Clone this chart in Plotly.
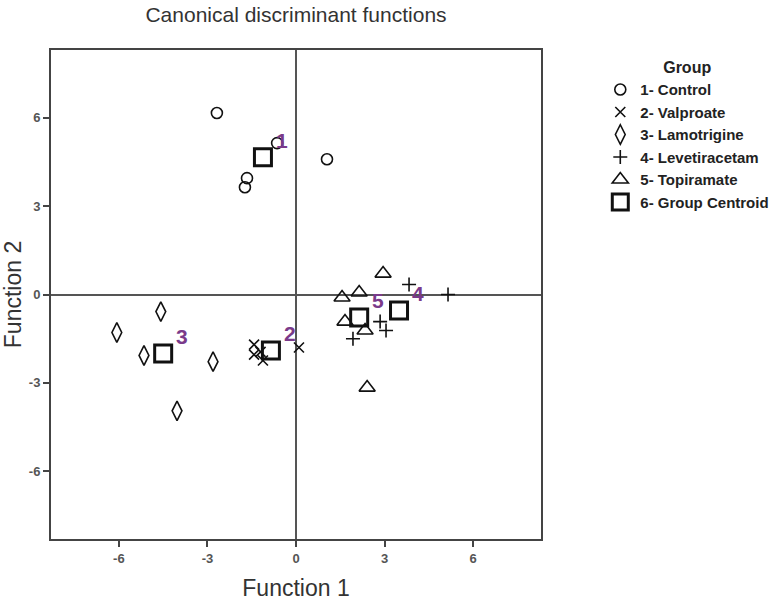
import plotly.graph_objects as go

# Group 1 - Control
control_x = [-2.68, -0.64, 1.05, -1.66, -1.73]
control_y = [6.16, 5.14, 4.59, 3.95, 3.64]
# Group 2 - Valproate
valproate_x = [-1.42, -1.42, -1.12, 0.10, -1.20]
valproate_y = [-1.70, -2.04, -2.24, -1.80, -1.95]
# Group 3 - Lamotrigine
lamotrigine_x = [-4.58, -6.07, -5.15, -2.81, -4.03]
lamotrigine_y = [-0.58, -1.29, -2.07, -2.28, -3.95]
# Group 4 - Levetiracetam
levetiracetam_x = [3.83, 5.15, 2.85, 3.05, 1.93]
levetiracetam_y = [0.34, 0.00, -0.92, -1.22, -1.50]
# Group 5 - Topiramate
topiramate_x = [2.95, 1.56, 2.14, 1.66, 2.34, 2.41]
topiramate_y = [0.71, -0.10, 0.07, -0.92, -1.22, -3.16]
# Group centroids
centroid_labels = ["1", "2", "3", "4", "5"]
centroid_x = [-1.12, -0.85, -4.50, 3.49, 2.14]
centroid_y = [4.66, -1.90, -2.00, -0.54, -0.78]

tick_vals = [-6, -3, 0, 3, 6]
tick_text = ["-6", "-3", "0", "3", "6"]

black = "#111111"
FONT = "Liberation Sans, Arial"
fig = go.Figure()

def add(name, xs, ys, symbol, size, lw):
    fig.add_trace(go.Scatter(
        x=xs, y=ys, mode="markers", name="<b>" + name + "</b>",
        marker=dict(symbol=symbol, size=size, color=black,
                    line=dict(color=black, width=lw)),
    ))

add("1- Control", control_x, control_y, "circle-open", 11, 1.6)
add("2- Valproate", valproate_x, valproate_y, "x-thin-open", 10, 1.6)
add("3- Lamotrigine", lamotrigine_x, lamotrigine_y, "diamond-tall-open", 14, 1.6)
add("4- Levetiracetam", levetiracetam_x, levetiracetam_y, "cross-thin-open", 10, 1.6)
add("5- Topiramate", topiramate_x, topiramate_y, "triangle-up-open", 14, 1.6)
add("6- Group Centroid", centroid_x, centroid_y, "square-open", 17, 3)

for lab, cx, cy in zip(centroid_labels, centroid_x, centroid_y):
    fig.add_annotation(x=cx, y=cy, text="<b>" + lab + "</b>", showarrow=False,
                       xshift=19, yshift=17,
                       font=dict(family=FONT, size=21, color="#7a3a8a"))

axis_common = dict(
    range=[-8.3, 8.3], tickvals=tick_vals,
    ticktext=["<b>" + t + "</b>" for t in tick_text],
    ticks="outside", ticklen=6,
    tickwidth=2, tickcolor="#444", showgrid=False,
    showline=True, linecolor="#444", linewidth=2, mirror=True,
    zeroline=True, zerolinecolor="#555", zerolinewidth=1.5,
    tickfont=dict(family=FONT, size=13, color="#555"),
    automargin=False,
)

fig.update_layout(
    width=783, height=601,
    margin=dict(l=51, r=242, t=50, b=62, autoexpand=False),
    plot_bgcolor="white", paper_bgcolor="white",
    title=dict(text="Canonical discriminant functions", x=296 / 783,
               xanchor="center", y=1 - 15 / 601, yanchor="middle",
               font=dict(family=FONT, size=21, color="#333")),
    xaxis=dict(**axis_common,
               title=dict(text="Function 1", standoff=20,
                          font=dict(family=FONT, size=23, color="#333"))),
    yaxis=dict(**axis_common,
               title=dict(text="Function 2", standoff=8,
                          font=dict(family=FONT, size=23, color="#333"))),
    legend=dict(
        x=1.121, y=0.995, xanchor="left", yanchor="top",
        title=dict(text="<b>Group</b>", side="top center",
                   font=dict(family=FONT, size=16, color="#222")),
        font=dict(family=FONT, size=15, color="#222"),
        itemsizing="trace", tracegroupgap=0, itemwidth=30,
    ),
    showlegend=True,
)

fig.write_html("out.html", config={"displayModeBar": False},
               post_script="document.body.style.margin='0px';document.body.style.padding='0px';")
